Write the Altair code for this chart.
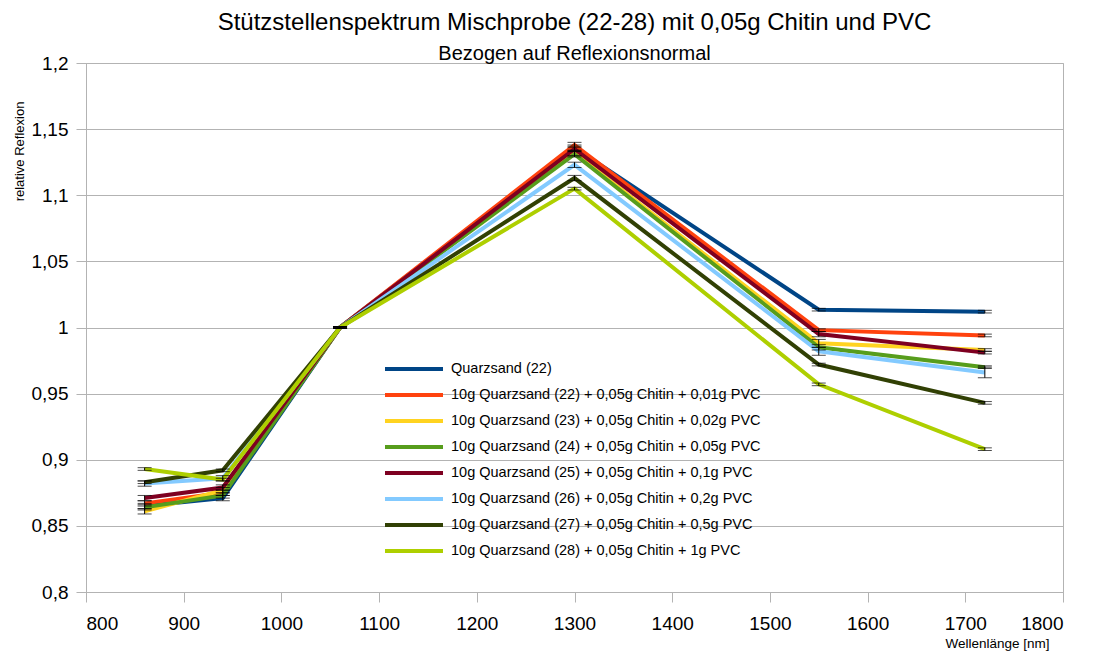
import altair as alt
import pandas as pd

wavelengths = [860, 940, 1060, 1300, 1550, 1720]

series_names = [
    "Quarzsand (22)",
    "10g Quarzsand (22) + 0,05g Chitin + 0,01g PVC",
    "10g Quarzsand (23) + 0,05g Chitin + 0,02g PVC",
    "10g Quarzsand (24) + 0,05g Chitin + 0,05g PVC",
    "10g Quarzsand (25) + 0,05g Chitin + 0,1g PVC",
    "10g Quarzsand (26) + 0,05g Chitin + 0,2g PVC",
    "10g Quarzsand (27) + 0,05g Chitin + 0,5g PVC",
    "10g Quarzsand (28) + 0,05g Chitin + 1g PVC",
]

colors = ["#004586", "#ff420e", "#ffd320", "#579d1c", "#7e0021", "#83caff", "#314004", "#aecf00"]

s22 = [0.865, 0.871, 1.0, 1.136, 1.0135, 1.012]
s22b = [0.867, 0.875, 1.0, 1.138, 0.998, 0.994]
s23 = [0.861, 0.877, 1.0, 1.132, 0.988, 0.983]
s24 = [0.864, 0.873, 1.0, 1.131, 0.985, 0.970]
s25 = [0.871, 0.879, 1.0, 1.135, 0.995, 0.981]
s26 = [0.882, 0.886, 1.0, 1.123, 0.982, 0.966]
s27 = [0.883, 0.892, 1.0, 1.113, 0.972, 0.943]
s28 = [0.893, 0.885, 1.0, 1.105, 0.957, 0.908]

e22 = [0.002, 0.002, 0.0005, 0.002, 0.001, 0.001]
e22b = [0.002, 0.002, 0.0005, 0.002, 0.001, 0.001]
e23 = [0.002, 0.002, 0.0005, 0.002, 0.003, 0.001]
e24 = [0.002, 0.002, 0.0005, 0.002, 0.002, 0.001]
e25 = [0.002, 0.002, 0.0005, 0.002, 0.002, 0.001]
e26 = [0.002, 0.002, 0.0005, 0.002, 0.003, 0.004]
e27 = [0.001, 0.001, 0.0005, 0.002, 0.001, 0.001]
e28 = [0.001, 0.001, 0.0005, 0.001, 0.001, 0.001]

x_ticks = [800, 900, 1000, 1100, 1200, 1300, 1400, 1500, 1600, 1700, 1800]
y_ticks = [0.8, 0.85, 0.9, 0.95, 1.0, 1.05, 1.1, 1.15, 1.2]

values = [s22, s22b, s23, s24, s25, s26, s27, s28]
errors = [e22, e22b, e23, e24, e25, e26, e27, e28]

rows = []
for name, vals, errs in zip(series_names, values, errors):
    for w, v, e in zip(wavelengths, vals, errs):
        rows.append({"serie": name, "wl": w, "v": v, "lo": v - e, "hi": v + e})
df = pd.DataFrame(rows)

font = "Liberation Sans"
grid = "#b3b3b3"

x = alt.X("wl:Q", scale=alt.Scale(domain=[800, 1800], nice=False),
          axis=alt.Axis(values=x_ticks, grid=False, format="d",
                        title="Wellenlänge [nm]", titleX=911, titleY=51,
                        titleAlign="center", titleBaseline="middle",
                        titleFontSize=13.5, titleFontWeight="normal"))
y = alt.Y("v:Q", scale=alt.Scale(domain=[0.8, 1.2], nice=False, zero=False),
          axis=alt.Axis(values=y_ticks,
                        format=".2~f", labelExpr="replace(datum.label, '.', ',')",
                        title="relative Reflexion", titleX=-67, titleY=88,
                        titleAngle=-90, titleAlign="center", titleBaseline="middle",
                        titleFontSize=13, titleFontWeight="normal"))

lines = alt.Chart(df).mark_line(strokeWidth=4).encode(
    x=x, y=y,
    color=alt.Color("serie:N", sort=series_names,
                    scale=alt.Scale(domain=series_names, range=colors),
                    legend=alt.Legend(title=None, orient="none", legendX=297, legendY=298,
                                      symbolType="stroke", symbolSize=3364,
                                      symbolStrokeWidth=4, labelFontSize=14.5,
                                      labelFont=font, labelColor="black", rowPadding=10,
                                      clipHeight=16, labelLimit=500, labelOffset=6)),
)

err_rule = alt.Chart(df).mark_rule(color="black", strokeWidth=1).encode(
    x="wl:Q", y="lo:Q", y2="hi:Q"
)
cap_lo = alt.Chart(df).mark_tick(color="black", size=14, thickness=1, orient="horizontal").encode(
    x="wl:Q", y="lo:Q"
)
cap_hi = alt.Chart(df).mark_tick(color="black", size=14, thickness=1, orient="horizontal").encode(
    x="wl:Q", y="hi:Q"
)

chart = alt.layer(lines, err_rule, cap_lo, cap_hi).properties(
    width=977, height=529,
    title=alt.TitleParams(
        text="Stützstellenspektrum Mischprobe (22-28) mit 0,05g Chitin und PVC",
        subtitle="Bezogen auf Reflexionsnormal",
        anchor="middle", fontSize=24, subtitleFontSize=20, font=font, subtitleFont=font,
        fontWeight="normal", color="black", subtitleColor="black", offset=-10,
        subtitlePadding=9,
    ),
    autosize=alt.AutoSizeParams(type="none"),
    padding={"left": 78, "top": 55, "right": 20, "bottom": 60},
).configure_view(stroke=grid, strokeWidth=1).configure_axis(
    labelFont=font, titleFont=font, labelFontSize=19, labelColor="black", titleColor="black",
    domainColor=grid, tickColor=grid, tickSize=10, gridColor=grid, labelPadding=12,
).configure_axisY(labelPadding=8)

chart.save("out.html", embed_options={"renderer": "svg", "actions": False})
